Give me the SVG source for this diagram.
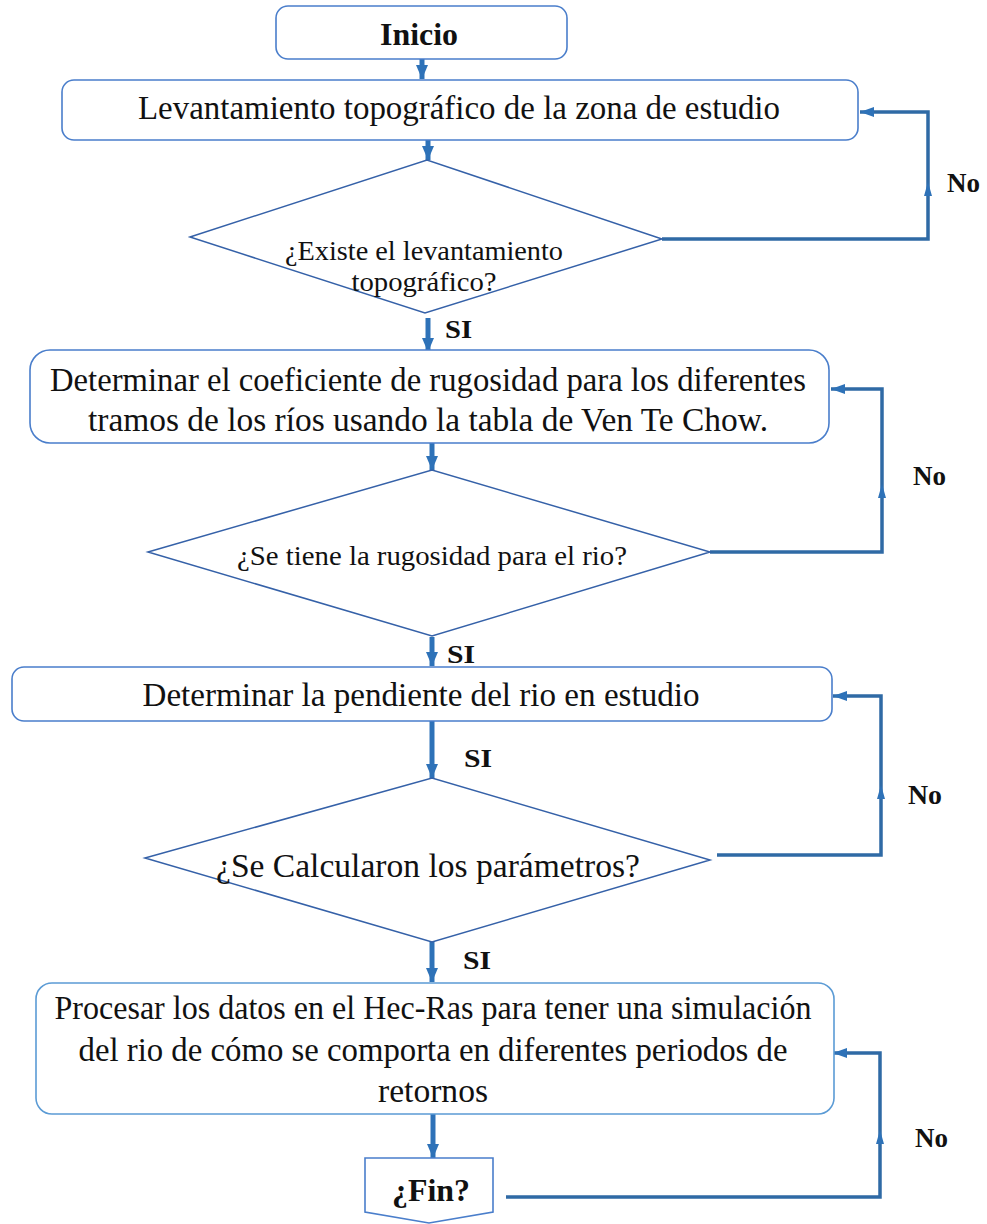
<svg xmlns="http://www.w3.org/2000/svg" width="987" height="1224" viewBox="0 0 987 1224">
<style>
.box{fill:#fff;stroke:#4a7ecb;stroke-width:1.6}
.dia{fill:#fff;stroke:#3561a8;stroke-width:1.5}
.t{font-family:"Liberation Serif","Times New Roman",serif;fill:#111;text-anchor:middle}
.b{font-weight:bold}
.down{fill:none;stroke:#2e72b8;stroke-width:5}
.loop{fill:none;stroke:#2f6aa5;stroke-width:3.5}
.head{fill:#2e72b8}
</style>
<defs>
<marker id="ah" markerUnits="userSpaceOnUse" markerWidth="16" markerHeight="12" refX="14" refY="6" orient="auto">
<path d="M0,0 L14,6 L0,12 Z" fill="#2e72b8"/>
</marker>
<marker id="al" markerUnits="userSpaceOnUse" markerWidth="16" markerHeight="12" refX="14" refY="5" orient="auto">
<path d="M0,0 L14,5 L0,10 Z" fill="#2e72b8"/>
</marker>
</defs>
<g id="connectors">
<path class="down" d="M422,59 V79" marker-end="url(#ah)"/>
<path class="down" d="M428,140 V160" marker-end="url(#ah)"/>
<path class="down" d="M428,318 V352" marker-end="url(#ah)"/>
<path class="down" d="M432,443 V470" marker-end="url(#ah)"/>
<path class="down" d="M432,637 V666" marker-end="url(#ah)"/>
<path class="down" d="M432,721 V778" marker-end="url(#ah)"/>
<path class="down" d="M432,942 V982" marker-end="url(#ah)"/>
<path class="down" d="M433,1114 V1158" marker-end="url(#ah)"/>
<path class="loop" d="M662,239 H928 V112 H860" marker-end="url(#al)"/>
<path class="head" d="M928,182 L932,196 L924,196 Z"/>
<path class="loop" d="M710,552 H882 V389 H831" marker-end="url(#al)"/>
<path class="head" d="M882,484 L886,498 L878,498 Z"/>
<path class="loop" d="M717,855 H881 V696 H833" marker-end="url(#al)"/>
<path class="head" d="M881,785 L885,799 L877,799 Z"/>
<path class="loop" d="M506,1197 H880 V1053 H833" marker-end="url(#al)"/>
<path class="head" d="M880,1130 L884,1144 L876,1144 Z"/>
<text class="t b" x="458.5" y="338" font-size="26" textLength="27" lengthAdjust="spacingAndGlyphs">SI</text>
<text class="t b" x="461" y="663" font-size="26" textLength="28" lengthAdjust="spacingAndGlyphs">SI</text>
<text class="t b" x="478" y="767" font-size="26" textLength="28" lengthAdjust="spacingAndGlyphs">SI</text>
<text class="t b" x="477" y="969" font-size="26" textLength="28" lengthAdjust="spacingAndGlyphs">SI</text>
<text class="t b" x="963.5" y="192" font-size="27" textLength="33" lengthAdjust="spacingAndGlyphs">No</text>
<text class="t b" x="929.5" y="485" font-size="27" textLength="33" lengthAdjust="spacingAndGlyphs">No</text>
<text class="t b" x="925" y="804" font-size="27" textLength="34" lengthAdjust="spacingAndGlyphs">No</text>
<text class="t b" x="931.5" y="1147" font-size="27" textLength="33" lengthAdjust="spacingAndGlyphs">No</text>
</g>
<g id="inicio">
<rect class="box" x="276" y="6" width="291" height="53" rx="12"/>
<text class="t b" x="419" y="45" font-size="32" textLength="78" lengthAdjust="spacingAndGlyphs">Inicio</text>
</g>
<g id="levantamiento">
<rect class="box" x="62" y="80" width="796" height="60" rx="12"/>
<text class="t" x="459" y="119" font-size="33" textLength="642" lengthAdjust="spacingAndGlyphs">Levantamiento topográfico de la zona de estudio</text>
</g>
<g id="existe">
<polygon class="dia" points="190,237 427,160 662,239 425,313"/>
<text class="t" x="424" y="260" font-size="27" textLength="278" lengthAdjust="spacingAndGlyphs">¿Existe el levantamiento</text>
<text class="t" x="424" y="291" font-size="27" textLength="145" lengthAdjust="spacingAndGlyphs">topográfico?</text>
</g>
<g id="coeficiente">
<rect class="box" x="30" y="350" width="799" height="93" rx="20"/>
<text class="t" x="428" y="391" font-size="33" textLength="756" lengthAdjust="spacingAndGlyphs">Determinar el coeficiente de rugosidad para los diferentes</text>
<text class="t" x="428" y="431" font-size="33" textLength="680" lengthAdjust="spacingAndGlyphs">tramos de los ríos usando la tabla de Ven Te Chow.</text>
</g>
<g id="rugosidad">
<polygon class="dia" points="148,552 432,470 710,552 432,636"/>
<text class="t" x="432" y="565" font-size="28" textLength="390" lengthAdjust="spacingAndGlyphs">¿Se tiene la rugosidad para el rio?</text>
</g>
<g id="pendiente">
<rect class="box" x="12" y="667" width="820" height="54" rx="12"/>
<text class="t" x="421" y="706" font-size="33" textLength="557" lengthAdjust="spacingAndGlyphs">Determinar la pendiente del rio en estudio</text>
</g>
<g id="parametros">
<polygon class="dia" points="145,858 432,778 710,860 432,942"/>
<text class="t" x="428" y="877" font-size="33" textLength="424" lengthAdjust="spacingAndGlyphs">¿Se Calcularon los parámetros?</text>
</g>
<g id="procesar">
<rect class="box" x="36" y="983" width="798" height="131" rx="16" style="stroke:#5b9bd5"/>
<text class="t" x="433" y="1019" font-size="33" textLength="757" lengthAdjust="spacingAndGlyphs">Procesar los datos en el Hec-Ras para tener una simulación</text>
<text class="t" x="433" y="1061" font-size="33" textLength="709" lengthAdjust="spacingAndGlyphs">del rio de cómo se comporta en diferentes periodos de</text>
<text class="t" x="433" y="1102" font-size="33" textLength="110" lengthAdjust="spacingAndGlyphs">retornos</text>
</g>
<g id="fin">
<polygon class="box" points="365,1158 493,1158 493,1212 429,1223 365,1212"/>
<text class="t b" x="431" y="1201" font-size="32" textLength="78" lengthAdjust="spacingAndGlyphs">¿Fin?</text>
</g>
</svg>
